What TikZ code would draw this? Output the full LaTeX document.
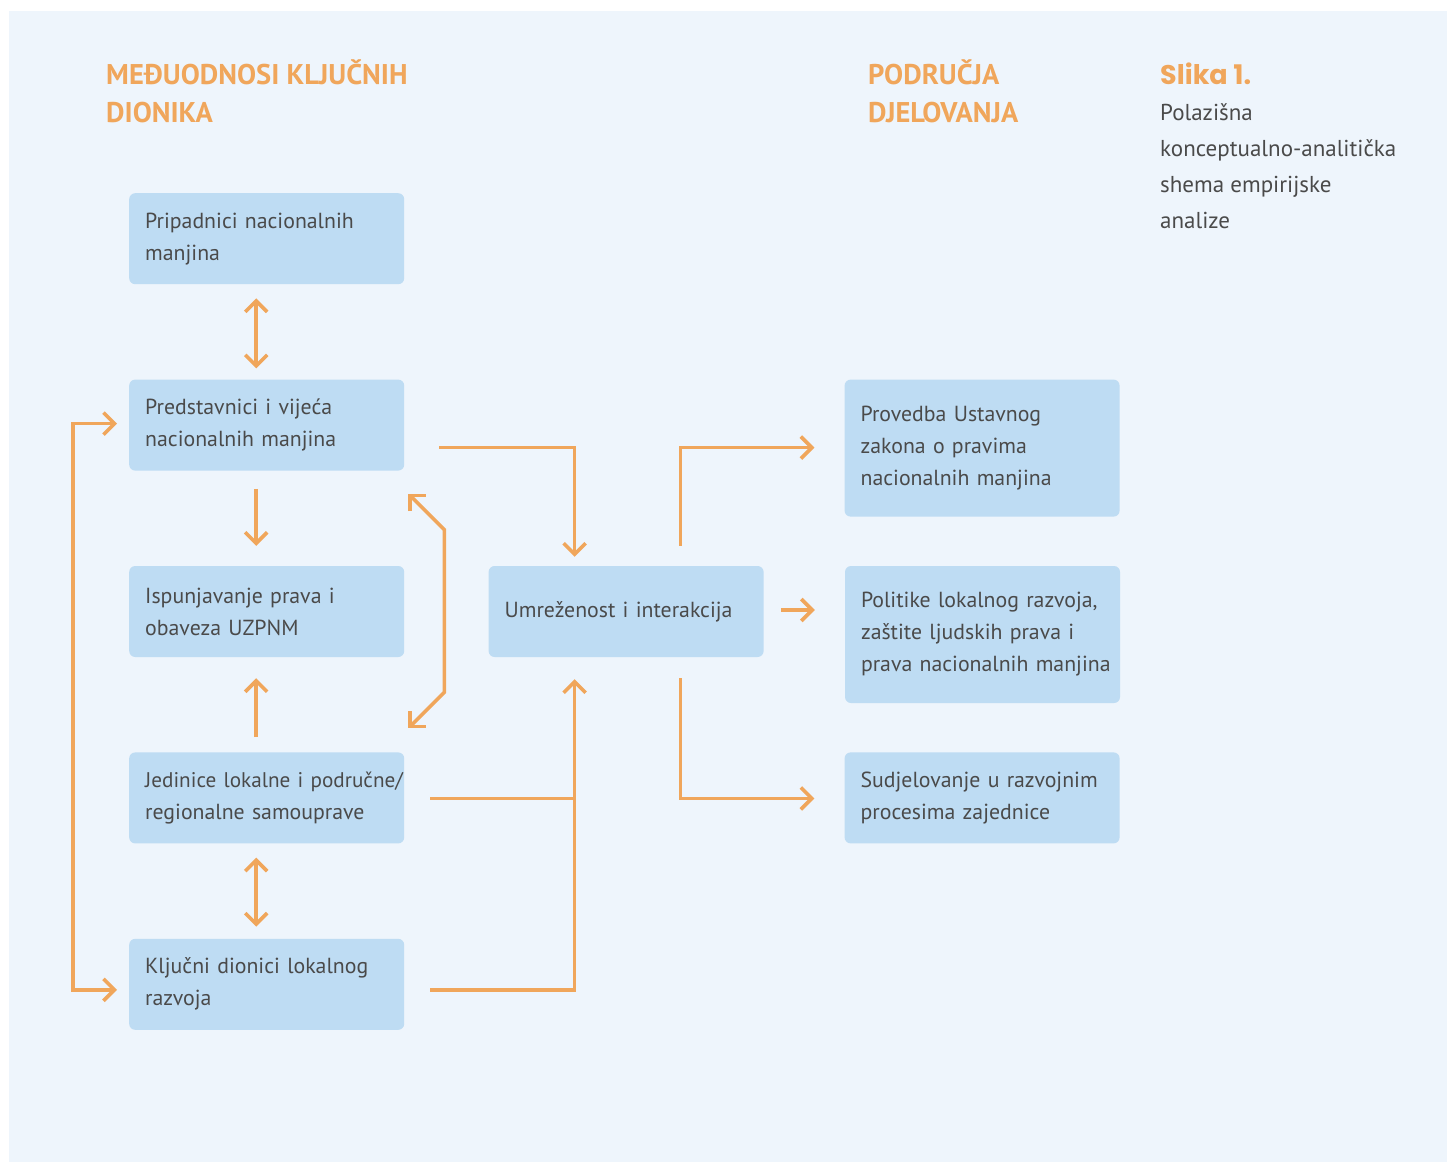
\documentclass[tikz,border=0pt]{standalone}
\usepackage{fontspec}
\setmainfont{PT Sans}
\newfontfamily\slikafont{Poppins}
\usetikzlibrary{arrows.meta, positioning, calc}

\definecolor{bgblue}{HTML}{EEF5FC}
\definecolor{boxblue}{HTML}{BEDCF3}
\definecolor{accent}{HTML}{F0A65B}
\definecolor{textgray}{HTML}{4A4A4A}

\begin{document}
\begin{tikzpicture}[
    x=1pt, y=-1pt,
    node distance=95pt,
    box/.style={fill=boxblue, rounded corners=6pt, text=textgray, align=left,
        font=\fontsize{21.8}{32}\selectfont, text width=243pt, inner xsep=16pt,
        inner ysep=0pt, minimum height=91pt},
    heading/.style={text=accent, font=\fontsize{28.5}{38}\selectfont\bfseries,
        align=left, anchor=base west, inner sep=0pt},
    link/.style={draw=accent, line width=3.6pt, line join=miter,
        -{Straight Barb[length=11pt, width=22pt]}},
    both/.style={link, {Straight Barb[length=11pt, width=22pt]}-{Straight Barb[length=11pt, width=22pt]}}
]
    % background
    \fill[white] (0,0) rectangle (1447,1162);
    \fill[bgblue] (9,11) rectangle (1447,1162);
    \useasboundingbox (0,0) rectangle (1447,1162);

    % headings (anchored at the baseline of the last line)
    \node[heading] (kljucniHead) at (106,122) {MEĐUODNOSI KLJUČNIH\\DIONIKA};
    \node[heading] (podrucjaHead) at (868,122) {PODRUČJA\\DJELOVANJA};
    \node[text=textgray, align=left, anchor=base west, inner sep=0pt,
        font=\fontsize{23}{36}\selectfont] (slika) at (1160,228)
        {{\slikafont\bfseries\color{accent}\fontsize{27}{36}\selectfont Slika 1.}\\Polazišna\\konceptualno-analitička\\shema empirijske\\analize};

    % left column
    \node[box, anchor=north west] (pripadnici) at (129,193) {\mbox{Pripadnici nacionalnih}\\manjina};
    \node[box, below=of pripadnici] (predstavnici) {Predstavnici i vijeća\\nacionalnih manjina};
    \node[box, below=of predstavnici] (ispunjavanje) {Ispunjavanje prava i\\obaveza UZPNM};
    \node[box, below=of ispunjavanje] (jedinice) {\mbox{\fontsize{21.2}{32}\selectfont Jedinice lokalne i područne/}\\\mbox{regionalne samouprave}};
    \node[box, below=of jedinice] (kljucni) {\mbox{Ključni dionici lokalnog}\\razvoja};

    % middle
    \node[box, right=84pt of ispunjavanje] (umrezenost) {\mbox{Umreženost i interakcija}};

    % right column
    \node[box, anchor=north west, minimum height=137pt] (provedba)
        at ([xshift=440pt]predstavnici.north east) {Provedba Ustavnog\\zakona o pravima\\nacionalnih manjina};
    \node[box, anchor=north west, minimum height=137pt] (politike)
        at ([xshift=81pt]umrezenost.north east) {\mbox{Politike lokalnog razvoja,}\\\mbox{zaštite ljudskih prava i}\\\mbox{prava nacionalnih manjina}};
    \node[box, anchor=north west] (sudjelovanje)
        at ([xshift=440pt]jedinice.north east) {\mbox{Sudjelovanje u razvojnim}\\procesima zajednice};

    % links in the left column
    \draw[both] ($(pripadnici.south)+(-10.5,14)$) -- ($(predstavnici.north)+(-10.5,-11)$);
    \draw[link] ($(predstavnici.south)+(-10.5,18)$) -- ($(ispunjavanje.north)+(-10.5,-20)$);
    \draw[link] ($(jedinice.north)+(-10.5,-15)$) -- ($(ispunjavanje.south)+(-10.5,21)$);
    \draw[both] ($(jedinice.south)+(-10.5,14)$) -- ($(kljucni.north)+(-10.5,-12)$);
    \draw[both] ($(predstavnici.west)+(-12,-1.5)$) -- ++(-44,0) |- ($(kljucni.west)+(-12,5.5)$);
    \draw[both] ($(predstavnici.south east)+(4,23)$) -- ++(36,36)
        -- ($(jedinice.north east)+(40,-60)$) -- ($(jedinice.north east)+(4,-24)$);

    % links to the middle
    \draw[link] ($(predstavnici.east)+(35,22.5)$) -| ($(umrezenost.north)+(-51.5,-9)$);
    \draw[accent, line width=3.6pt] ($(jedinice.east)+(26,0.5)$) -- ($(jedinice.east)+(170,0.5)$);
    \draw[link] ($(kljucni.east)+(26,5.5)$) -| ($(umrezenost.south)+(-51.5,22)$);

    % links to the right
    \draw[link] ($(umrezenost.north)+(54.5,-20)$) |- ($(provedba.west)+(-30,-0.5)$);
    \draw[link] ($(umrezenost.east)+(17,-1.5)$) -- ($(politike.west)+(-30,-24.5)$);
    \draw[link] ($(umrezenost.south)+(54.5,21)$) |- ($(sudjelovanje.west)+(-30,0.5)$);
\end{tikzpicture}
\end{document}
